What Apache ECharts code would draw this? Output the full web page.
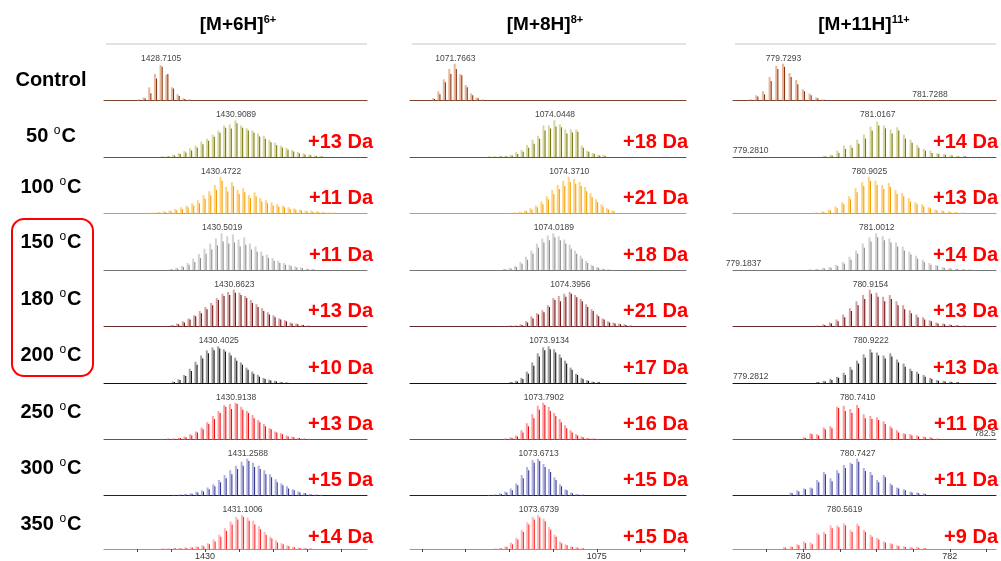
<!DOCTYPE html>
<html>
<head>
<meta charset="utf-8">
<script src="https://cdn.jsdelivr.net/npm/echarts@6/dist/echarts.min.js"></script>
<style>
  html, body { margin: 0; padding: 0; background: #fff; }
  #chart { width: 1001px; height: 561px; }
</style>
</head>
<body>
<div id="chart"></div>
<script>
// rows and columns
const rowLabels = ['Control', '50', '100', '150', '180', '200', '250', '300', '350'];
const charges = [6, 8, 11];
const colTitles = [['[M+6H]', '6+'], ['[M+8H]', '8+'], ['[M+11H]', '11+']];

// m/z window of each column and the bottom ticks
const xMin = [1427.03, 1070.73, 779.04];
const xMax = [1434.76, 1077.04, 782.63];
const tickValues = [[1428, 1429, 1430, 1431, 1432, 1433, 1434], [1071, 1072, 1073, 1074, 1075, 1076, 1077], [779.5, 780, 780.5, 781, 781.5, 782, 782.5]];
const tickLabels = [[1430], [1075], [780, 782]];

// labelled most abundant peak per row
const apex6 = [1428.7105, 1430.9089, 1430.4722, 1430.5019, 1430.8623, 1430.4025, 1430.9138, 1431.2588, 1431.1006];
const apex8 = [1071.7663, 1074.0448, 1074.3710, 1074.0189, 1074.3956, 1073.9134, 1073.7902, 1073.6713, 1073.6739];
const apex11 = [779.7293, 781.0167, 780.9025, 781.0012, 780.9154, 780.9222, 780.7410, 780.7427, 780.5619];

// mass shift vs control (Da)
const shift6 = [null, 13, 11, 11, 13, 10, 13, 15, 14];
const shift8 = [null, 18, 21, 18, 21, 17, 16, 15, 15];
const shift11 = [null, 14, 13, 14, 13, 13, 11, 11, 9];

// other small peak labels in the 11+ column: [row, m/z, text]
const extra11 = [[0, 781.7288, '781.7288'], [1, 779.2810, '779.2810'], [3, 779.1837, '779.1837'], [5, 779.2812, '779.2812'], [6, 782.48, '782.5']];

// isotope envelope intensities (relative), one list per row, peaks spaced 1/z
const light6 = [
  [3, 8, 36, 72, 97, 70, 36, 17, 6, 3],
  [2, 3, 6, 11, 17, 24, 31, 42, 50, 61, 72, 86, 89, 100, 86, 78, 72, 64, 58, 47, 39, 31, 25, 19, 14, 10, 7, 4, 3],
  [2, 3, 4, 6, 8, 12, 17, 22, 28, 36, 50, 61, 78, 100, 72, 86, 64, 69, 50, 58, 42, 36, 31, 25, 22, 17, 14, 11, 8, 8, 6, 4, 3, 3],
  [3, 6, 11, 19, 31, 44, 58, 72, 86, 100, 92, 97, 83, 89, 72, 64, 50, 42, 33, 25, 19, 14, 10, 7, 4, 3],
  [2, 4, 8, 14, 22, 31, 42, 53, 64, 78, 89, 94, 100, 92, 83, 72, 61, 50, 39, 31, 22, 17, 11, 8, 5, 3],
  [4, 10, 22, 39, 58, 75, 89, 97, 100, 92, 83, 69, 56, 42, 31, 22, 14, 9, 6, 3, 2],
  [2, 3, 3, 5, 8, 14, 22, 33, 47, 64, 78, 94, 97, 100, 89, 78, 67, 53, 42, 31, 22, 17, 11, 8, 5, 3, 2],
  [2, 3, 4, 6, 10, 14, 22, 31, 42, 56, 69, 81, 92, 100, 89, 81, 69, 58, 44, 33, 25, 17, 11, 7, 4, 3, 2],
  [2, 2, 3, 3, 5, 6, 8, 11, 17, 28, 42, 61, 81, 94, 100, 92, 83, 67, 50, 36, 25, 17, 11, 7, 4, 3, 2]
];
const dark6 = [
  [2, 6, 20, 60, 92, 72, 33, 12, 4, 2],
  [1, 2, 4, 8, 12, 18, 25, 35, 44, 55, 66, 80, 78, 92, 80, 72, 66, 56, 50, 40, 32, 26, 20, 15, 10, 7, 5, 3, 2],
  [1, 2, 3, 4, 6, 9, 12, 17, 22, 28, 40, 50, 64, 89, 60, 75, 53, 58, 42, 47, 33, 28, 22, 19, 17, 12, 10, 8, 6, 5, 4, 3, 2, 2],
  [2, 4, 8, 14, 22, 33, 44, 56, 67, 78, 72, 75, 64, 69, 56, 50, 39, 33, 25, 19, 14, 10, 7, 5, 3, 2],
  [1, 3, 6, 11, 19, 28, 36, 47, 58, 72, 83, 86, 92, 86, 78, 64, 53, 42, 33, 25, 19, 14, 8, 6, 4, 2],
  [3, 8, 19, 33, 50, 67, 81, 89, 94, 86, 75, 61, 50, 36, 25, 17, 11, 7, 4, 2, 1],
  [1, 2, 2, 4, 6, 11, 19, 28, 42, 56, 72, 89, 83, 97, 81, 72, 58, 47, 36, 28, 19, 14, 8, 6, 4, 2, 1],
  [1, 2, 3, 5, 8, 11, 17, 25, 36, 47, 58, 72, 81, 94, 78, 72, 58, 50, 36, 28, 19, 14, 8, 6, 3, 2, 1],
  [1, 1, 2, 2, 3, 4, 6, 8, 14, 22, 36, 53, 72, 86, 94, 83, 72, 58, 42, 31, 19, 14, 8, 5, 3, 2, 1]
];
const light8 = [
  [6, 25, 58, 86, 100, 72, 42, 19, 8, 3],
  [2, 2, 3, 3, 6, 14, 19, 33, 47, 58, 86, 86, 100, 89, 75, 75, 75, 31, 17, 11, 6, 6],
  [2, 3, 5, 8, 14, 22, 33, 47, 64, 78, 89, 100, 94, 86, 72, 56, 39, 25, 14, 8],
  [3, 6, 11, 22, 36, 53, 72, 86, 94, 100, 92, 83, 69, 53, 39, 25, 14, 8, 4, 2],
  [1, 3, 3, 6, 14, 28, 36, 44, 58, 78, 83, 89, 94, 86, 75, 61, 47, 33, 22, 14, 11, 8, 6, 3],
  [3, 6, 14, 31, 56, 81, 97, 100, 92, 78, 61, 42, 25, 14, 8, 4, 3],
  [3, 6, 11, 25, 44, 69, 92, 100, 89, 72, 56, 39, 25, 14, 8, 4, 3, 2],
  [2, 3, 6, 11, 19, 33, 56, 78, 97, 100, 86, 72, 50, 31, 17, 8, 4, 3],
  [1, 3, 8, 19, 33, 56, 78, 94, 100, 89, 64, 42, 22, 14, 8, 6, 3]
];
const dark8 = [
  [4, 17, 50, 72, 86, 69, 36, 14, 6, 2],
  [1, 1, 2, 2, 4, 8, 14, 25, 36, 50, 72, 78, 83, 81, 64, 67, 69, 25, 14, 8, 4, 3],
  [1, 2, 3, 6, 10, 17, 25, 39, 53, 67, 75, 86, 81, 75, 61, 44, 31, 19, 11, 6],
  [2, 4, 8, 17, 28, 44, 61, 75, 81, 89, 81, 72, 58, 44, 31, 19, 11, 6, 3, 1],
  [1, 2, 2, 4, 11, 22, 33, 39, 53, 72, 69, 81, 89, 80, 69, 53, 42, 28, 19, 11, 8, 6, 4, 2],
  [2, 4, 11, 25, 47, 72, 89, 92, 83, 69, 53, 36, 22, 11, 6, 3, 2],
  [2, 4, 8, 19, 36, 58, 81, 94, 78, 64, 47, 31, 19, 11, 6, 3, 2, 1],
  [1, 2, 4, 8, 14, 28, 47, 69, 89, 94, 78, 64, 42, 25, 14, 6, 3, 2],
  [1, 2, 6, 14, 28, 50, 72, 86, 92, 81, 56, 36, 17, 11, 6, 4, 2]
];
const light11 = [
  [3, 14, 25, 64, 94, 100, 75, 56, 31, 19, 8, 3],
  [3, 6, 17, 31, 33, 47, 61, 83, 97, 86, 75, 81, 61, 47, 33, 22, 17, 11, 8, 6, 3, 3],
  [3, 6, 11, 19, 31, 47, 69, 86, 100, 89, 78, 83, 64, 56, 42, 31, 25, 17, 11, 8, 6, 4, 3],
  [2, 3, 6, 8, 14, 22, 36, 53, 72, 89, 100, 92, 86, 75, 64, 50, 39, 28, 19, 14, 8, 6, 4, 3, 2],
  [3, 6, 11, 19, 33, 50, 69, 86, 100, 92, 81, 86, 69, 58, 44, 33, 25, 17, 11, 8, 6, 4, 3],
  [3, 6, 11, 17, 28, 44, 61, 78, 92, 83, 75, 81, 64, 53, 39, 31, 22, 14, 8, 6, 4, 3],
  [6, 17, 14, 33, 36, 89, 92, 83, 94, 69, 64, 61, 50, 36, 25, 17, 14, 11, 8, 6, 3],
  [8, 14, 19, 22, 42, 64, 47, 69, 83, 89, 100, 75, 64, 42, 56, 33, 22, 17, 11, 8, 6],
  [6, 8, 14, 22, 19, 47, 50, 69, 69, 75, 56, 74, 56, 42, 33, 22, 17, 11, 8, 6, 6, 3]
];
const dark11 = [
  [2, 11, 17, 53, 86, 92, 64, 44, 25, 14, 6, 2],
  [2, 4, 11, 22, 25, 36, 50, 72, 86, 78, 64, 72, 50, 39, 25, 17, 11, 8, 6, 4, 2, 2],
  [2, 4, 8, 14, 25, 39, 58, 75, 89, 78, 67, 72, 53, 47, 33, 25, 19, 14, 8, 6, 4, 3, 2],
  [1, 2, 4, 6, 11, 17, 28, 44, 61, 78, 89, 81, 75, 64, 53, 42, 31, 22, 14, 11, 6, 4, 3, 2, 1],
  [2, 4, 8, 14, 25, 42, 58, 75, 89, 81, 69, 75, 58, 47, 36, 25, 19, 14, 8, 6, 4, 3, 2],
  [2, 4, 8, 14, 22, 36, 53, 69, 83, 75, 67, 72, 56, 44, 33, 25, 17, 11, 6, 4, 3, 2],
  [4, 14, 11, 28, 31, 86, 78, 72, 86, 58, 56, 53, 42, 31, 19, 14, 11, 8, 6, 4, 2],
  [6, 11, 17, 19, 36, 58, 39, 61, 75, 86, 92, 67, 56, 36, 50, 28, 19, 14, 8, 6, 4],
  [4, 6, 11, 17, 14, 42, 44, 61, 64, 69, 50, 67, 50, 36, 28, 19, 14, 8, 6, 4, 4, 2]
];

// ---- styling / layout ----
const FONT = '"Liberation Sans", Arial, sans-serif';
const darkCol  = ['#8a3510', '#77770e', '#f4a000', '#8c8c8c', '#740c0c', '#111111', '#ee1010', '#3a3a95', '#ff2a2a'];
const lightCol = ['#e8b698', '#d9d89c', '#ffd27e', '#d2d2d2', '#d5a3a3', '#a0a0a0', '#ff9e9e', '#b0b2e2', '#ffb6b6'];
const axisCol  = ['#7a4630', '#5c5c26', '#e89a10', '#777777', '#6a2a2a', '#111111', '#b83030', '#1c1c55', '#ff6a6a'];
const baseY = [100.5, 157, 213.5, 270, 326.5, 383, 439.5, 495.5, 552];
const labelY = [80, 136, 187, 242, 299, 355, 412, 468, 524];
const colLeft = [104, 410, 733];
const colRight = [367, 686, 996];
const daRight = [373, 688, 998];
const titleX = [238, 545, 864];
const panelH = 44;

const lightSets = [light6, light8, light11];
const darkSets = [dark6, dark8, dark11];
const apexSets = [apex6, apex8, apex11];
const shiftSets = [shift6, shift8, shift11];

const chart = echarts.init(document.getElementById('chart'));
const grids = [], xAxes = [], yAxes = [], series = [];

for (let c = 0; c < 3; c++) {
  for (let r = 0; r < 9; r++) {
    const k = grids.length;
    const last = r === 8;
    grids.push({ left: colLeft[c], width: colRight[c] - colLeft[c], top: baseY[r] - panelH, height: panelH });
    xAxes.push({
      type: 'value', gridIndex: k, min: xMin[c], max: xMax[c],
      axisLine: { show: true, onZero: false, lineStyle: { color: axisCol[r], width: 1 } },
      axisTick: { show: last, customValues: tickValues[c], length: 3, lineStyle: { color: '#444' } },
      axisLabel: { show: last, customValues: tickLabels[c], fontSize: 9, margin: 3, color: '#333', fontFamily: FONT,
                   formatter: v => String(v) },
      splitLine: { show: false }
    });
    yAxes.push({ type: 'value', gridIndex: k, min: 0, max: 120, show: false });

    const L = lightSets[c][r], D = darkSets[c][r];
    const top = L.indexOf(Math.max(...L));
    const apex = apexSets[c][r];
    const peaks = L.map((h, i) => [apex + (i - top) / charges[c], h, D[i] || 0]);
    const lc = lightCol[r], dc = darkCol[r];
    series.push({
      type: 'custom', xAxisIndex: k, yAxisIndex: k, clip: true, silent: true,
      data: peaks,
      renderItem: (params, api) => {
        const b = api.coord([api.value(0), 0]);
        const tl = api.coord([api.value(0), api.value(1)]);
        const td = api.coord([api.value(0), api.value(2)]);
        return { type: 'group', children: [
          { type: 'line', shape: { x1: b[0] - 0.6, y1: b[1], x2: tl[0] - 0.6, y2: tl[1] }, style: { stroke: lc, lineWidth: 2 } },
          { type: 'line', shape: { x1: b[0] + 1, y1: b[1], x2: td[0] + 1, y2: td[1] }, style: { stroke: dc, lineWidth: 1.1 } }
        ] };
      }
    });

    // m/z labels
    const labs = [[apex, 114.5, apex.toFixed(4)]];
    if (c === 2) extra11.filter(e => e[0] === r).forEach(e => labs.push([e[1], 16, e[2]]));
    series.push({
      type: 'custom', xAxisIndex: k, yAxisIndex: k, clip: false, silent: true,
      data: labs.map(l => [l[0], l[1]]),
      renderItem: (params, api) => {
        const p = api.coord([api.value(0), api.value(1)]);
        return { type: 'text', x: p[0], y: p[1], style: {
          text: labs[params.dataIndex][2], fontSize: 8.5, fill: '#444', fontFamily: FONT,
          align: 'center', verticalAlign: 'middle' } };
      }
    });
  }
}

const graphic = [];
// column headings and top rules
for (let c = 0; c < 3; c++) {
  graphic.push({ type: 'line', shape: { x1: colLeft[c] + 2, y1: 44, x2: colRight[c], y2: 44 }, style: { stroke: '#d9d9d9', lineWidth: 1.5 } });
  graphic.push({ type: 'text', x: titleX[c], y: 25, style: {
    text: '{a|' + colTitles[c][0] + '}{s|' + colTitles[c][1] + '}', align: 'center', verticalAlign: 'middle',
    rich: { a: { fontSize: 19, fontWeight: 'bold', fontFamily: FONT, fill: '#000' },
            s: { fontSize: 11, fontWeight: 'bold', fontFamily: FONT, fill: '#000', padding: [0, 0, 10, 0] } } } });
}
// row labels
for (let r = 0; r < 9; r++) {
  const txt = r === 0 ? '{a|Control}' : '{a|' + rowLabels[r] + ' }{s|o}{a|C}';
  graphic.push({ type: 'text', x: 51, y: labelY[r], style: {
    text: txt, align: 'center', verticalAlign: 'middle',
    rich: { a: { fontSize: 20, fontWeight: 'bold', fontFamily: FONT, fill: '#000' },
            s: { fontSize: 12, fontFamily: FONT, fill: '#000', padding: [0, 1, 10, 0] } } } });
  for (let c = 0; c < 3; c++) {
    const s = shiftSets[c][r];
    if (s == null) continue;
    graphic.push({ type: 'text', x: daRight[c], y: baseY[r] - 15, style: {
      text: '+' + s + ' Da', align: 'right', verticalAlign: 'middle',
      fontSize: 20, fontWeight: 'bold', fontFamily: FONT, fill: '#ff0000' } });
  }
}
// highlight box around 150-200 oC
graphic.push({ type: 'rect', shape: { x: 12, y: 219, width: 81, height: 157, r: 12 }, style: { fill: 'none', stroke: '#ff0000', lineWidth: 2 } });

chart.setOption({
  animation: false,
  backgroundColor: '#fff',
  grid: grids, xAxis: xAxes, yAxis: yAxes, series: series,
  graphic: graphic
});
window.addEventListener('resize', () => chart.resize());
</script>
</body>
</html>
